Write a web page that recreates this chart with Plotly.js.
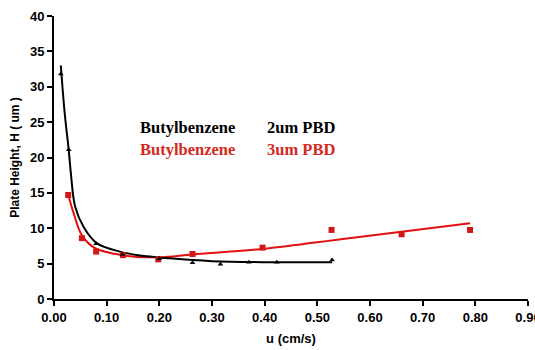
<!DOCTYPE html>
<html>
<head>
<meta charset="utf-8">
<script src="https://cdn.plot.ly/plotly-3.0.1.min.js"></script>
<style>html,body{margin:0;padding:0;background:#fff;}#chart{width:535px;height:350px;}</style>
</head>
<body>
<div id="chart"></div>
<script>
// Measured points, 2um PBD
var u2 = [0.013, 0.028, 0.08, 0.13, 0.20, 0.263, 0.316, 0.370, 0.423, 0.528];
var h2 = [31.8, 21.1, 7.8, 6.3, 5.7, 5.13, 4.9, 5.2, 5.2, 5.5];
// Fitted curve, 2um PBD
var fitU2 = [0.013, 0.02, 0.028, 0.032, 0.04, 0.056, 0.081, 0.125, 0.16, 0.22, 0.30, 0.40, 0.528];
var fitH2 = [33.0, 26.5, 21.0, 17.8, 13.1, 10.2, 7.9, 6.7, 6.2, 5.75, 5.35, 5.2, 5.2];
// Measured points, 3um PBD
var u3 = [0.027, 0.053, 0.080, 0.131, 0.198, 0.263, 0.396, 0.527, 0.660, 0.790];
var h3 = [14.7, 8.6, 6.7, 6.2, 5.6, 6.36, 7.26, 9.76, 9.15, 9.76];
// Fitted curve, 3um PBD
var fitU3 = [0.027, 0.037, 0.053, 0.078, 0.13, 0.20, 0.263, 0.40, 0.56, 0.79];
var fitH3 = [14.7, 12.2, 9.0, 7.2, 6.2, 5.9, 6.3, 7.1, 8.6, 10.7];

var xTicks = [0, 0.1, 0.2, 0.3, 0.4, 0.5, 0.6, 0.7, 0.8, 0.9];
var yTicks = [0, 5, 10, 15, 20, 25, 30, 35, 40];
var legendNames = ["Butylbenzene", "Butylbenzene"];
var legendColumns = ["2um PBD", "3um PBD"];

var data = [
  {x: fitU3, y: fitH3, mode: 'lines', line: {color: '#e01010', width: 2, shape: 'spline', smoothing: 1}, hoverinfo: 'skip'},
  {x: fitU2, y: fitH2, mode: 'lines', line: {color: '#000000', width: 2, shape: 'spline', smoothing: 1}, hoverinfo: 'skip'},
  {x: u3, y: h3, mode: 'markers', marker: {symbol: 'square', size: 6, color: '#d01818'}},
  {x: u2, y: h2, mode: 'markers', marker: {symbol: 'triangle-up', size: 5, color: '#000000'}}
];

var tf = {family: 'Liberation Sans, Arial, sans-serif', size: 13, color: '#000', weight: 'bold'};
var serif = 'Liberation Serif, Times New Roman, serif';

var layout = {
  width: 535, height: 350,
  margin: {l: 54, r: 7, t: 16, b: 51},
  paper_bgcolor: '#fff', plot_bgcolor: '#fff',
  showlegend: false,
  font: {family: 'Liberation Sans, Arial, sans-serif', color: '#000'},
  xaxis: {
    range: [0, 0.9], tickvals: xTicks, tickformat: '.2f', ticklabeloverflow: 'allow',
    showgrid: false, zeroline: false, showline: true, linecolor: '#000', linewidth: 2,
    ticks: 'outside', ticklen: 5, tickwidth: 2, tickcolor: '#000',
    tickfont: tf,
    title: {text: '<b>u (cm/s)</b>', font: {family: 'Liberation Sans, Arial, sans-serif', size: 13, color: '#000'}, standoff: 10}
  },
  yaxis: {
    range: [0, 40], tickvals: yTicks,
    showgrid: false, zeroline: false, showline: true, linecolor: '#000', linewidth: 2,
    ticks: 'outside', ticklen: 5, tickwidth: 2, tickcolor: '#000',
    tickfont: tf,
    title: {text: '<b>Plate Height, H ( um )</b>', font: {family: 'Liberation Sans, Arial, sans-serif', size: 12, color: '#000'}, standoff: 8}
  },
  annotations: [
    {x: 0.159, y: 24.2, xref: 'x', yref: 'y', xanchor: 'left', yanchor: 'middle', showarrow: false,
     text: '<b>' + legendNames[0] + '</b>', font: {family: serif, size: 16.5, color: '#000'}},
    {x: 0.400, y: 24.2, xref: 'x', yref: 'y', xanchor: 'left', yanchor: 'middle', showarrow: false,
     text: '<b>' + legendColumns[0] + '</b>', font: {family: serif, size: 16.5, color: '#000'}},
    {x: 0.159, y: 21.1, xref: 'x', yref: 'y', xanchor: 'left', yanchor: 'middle', showarrow: false,
     text: '<b>' + legendNames[1] + '</b>', font: {family: serif, size: 16.5, color: '#d42a1e'}},
    {x: 0.400, y: 21.1, xref: 'x', yref: 'y', xanchor: 'left', yanchor: 'middle', showarrow: false,
     text: '<b>' + legendColumns[1] + '</b>', font: {family: serif, size: 16.5, color: '#d42a1e'}}
  ]
};

Plotly.newPlot('chart', data, layout, {displayModeBar: false, staticPlot: true});
</script>
</body>
</html>
